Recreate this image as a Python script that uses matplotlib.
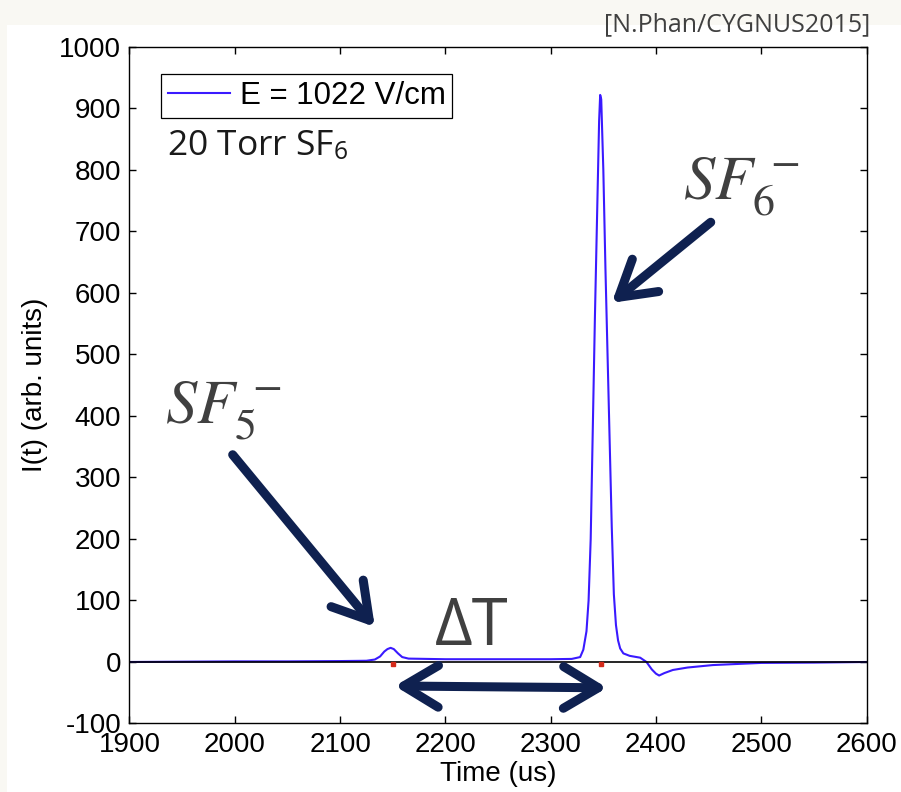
"""
Segnale I(t) in 20 Torr SF6: picchi SF5- e SF6-
"""
import matplotlib.pyplot as plt
from matplotlib.patches import Rectangle

# dati
time_us = [1900, 1950, 2000, 2050, 2100, 2125, 2133, 2138, 2142, 2145, 2148,
           2151, 2155, 2159, 2165, 2200, 2250, 2300, 2320, 2328, 2331, 2334,
           2336, 2338, 2340, 2342, 2344, 2346, 2347, 2348, 2350, 2352, 2354,
           2356, 2358, 2360, 2362, 2364, 2366, 2369, 2375, 2385, 2391, 2396,
           2400, 2403, 2408, 2416, 2430, 2454, 2480, 2500, 2550, 2600]
intensity = [0, 0.5, 1, 1, 1.5, 2, 4, 9, 17, 21, 23,
             21, 14, 8, 5.5, 4.5, 4.5, 4.5, 5, 8, 20, 50,
             100, 200, 380, 560, 720, 880, 922, 915, 800, 640, 500,
             360, 220, 110, 60, 35, 22, 14, 10, 7, 0, -12,
             -19, -22, -18, -13, -9, -5, -3, -1.5, -1, 0]
peak_times = [2150, 2348]
legend_label = "E = 1022 V/cm"

NAVY = "#0f2150"
GREY = "#404040"

plt.rcParams["axes.unicode_minus"] = False
plt.rcParams["mathtext.fontset"] = "stix"

fig = plt.figure(figsize=(9.01, 7.92), dpi=100)
fig.patch.set_facecolor("#f9f8f3")
fig.add_artist(Rectangle((7 / 901, 0), 1, 1 - 25 / 792, transform=fig.transFigure,
                         facecolor="white", edgecolor="none", zorder=-5))

ax = fig.add_axes([0.1437, 0.0865, 0.8181, 0.8542])
ax.plot(time_us, intensity, color="#3a1aff", lw=1.5, label=legend_label, zorder=2)
ax.axhline(0, color="black", lw=1.2, zorder=3)
ax.plot(peak_times, [-4, -4], ls="none", marker="s", ms=3.5, color="#d42a1a", zorder=4)

ax.set_xlim(1900, 2600)
ax.set_ylim(-100, 1000)
ax.set_xticks(range(1900, 2601, 100))
ax.set_yticks(range(-100, 1001, 100))
ax.tick_params(direction="in", length=5, width=1, top=True, right=True,
               labelsize=20, pad=6)
for lab in ax.get_xticklabels() + ax.get_yticklabels():
    lab.set_family("Liberation Sans")
for sp in ax.spines.values():
    sp.set_linewidth(1)

ax.set_xlabel("Time (us)", fontsize=20, family="Liberation Sans", labelpad=2)
ax.set_ylabel("I(t) (arb. units)", fontsize=20, family="Liberation Sans", labelpad=8)

leg = ax.legend(loc="upper left", bbox_to_anchor=(0.0427, 0.960), borderaxespad=0,
                fancybox=False, framealpha=1, edgecolor="black", handlelength=2.0,
                handletextpad=0.3, borderpad=0.22,
                prop={"family": "Liberation Sans", "size": 22.5})
leg.get_frame().set_linewidth(0.9)

ax.text(1935.6, 824, r"20 Torr SF$_\mathregular{6}$", fontsize=25.5,
        family=["Open Sans", "DejaVu Sans"], color="#1a1a1a", va="baseline")

# annotazioni
ax.text(1933.7, 388, r"$SF_5^{\,-}$", fontsize=45, color=GREY, va="baseline")
ax.text(2425.6, 751, r"$SF_6^{\,-}$", fontsize=45, color=GREY, va="baseline")
ax.text(2190, 28, "\u0394T", fontsize=47, color=GREY, va="baseline",
        family=["Open Sans", "DejaVu Sans"])

arrow = dict(lw=6.5, color=NAVY, capstyle="round", joinstyle="round",
             shrinkA=0, shrinkB=0, mutation_scale=20)
head = "head_length=1.25,head_width=0.75"
ax.annotate("", xy=(2133, 57), xytext=(1998, 337), annotation_clip=False,
            arrowprops=dict(arrowstyle="->," + head, **arrow))
ax.annotate("", xy=(2358, 584), xytext=(2452, 715), annotation_clip=False,
            arrowprops=dict(arrowstyle="->," + head, **arrow))
ax.annotate("", xy=(2353.5, -42), xytext=(2152, -39), annotation_clip=False,
            arrowprops=dict(arrowstyle="<->," + head, **arrow))

fig.text(0.9656, 0.96, "[N.Phan/CYGNUS2015]", fontsize=18, color=GREY, ha="right",
         va="baseline", family=["Open Sans", "DejaVu Sans"])

fig.savefig("out.png", dpi=100, facecolor=fig.get_facecolor())
